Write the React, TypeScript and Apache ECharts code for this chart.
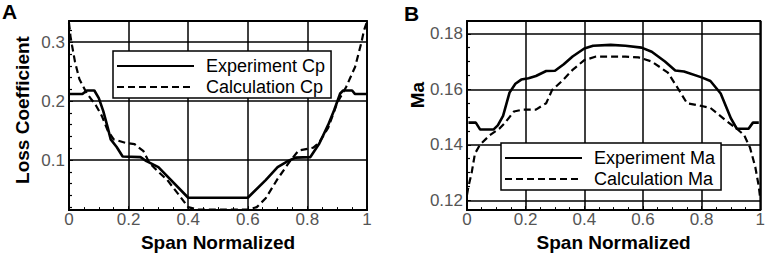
import React, { useEffect, useRef } from "react";
import * as echarts from "echarts";

// ---------- Data ----------
const expCpX = [0, 0.045, 0.06, 0.085, 0.1, 0.115, 0.13, 0.14, 0.16, 0.18, 0.24, 0.26, 0.3, 0.4, 0.6, 0.66, 0.7, 0.73, 0.76, 0.81, 0.84, 0.87, 0.89, 0.91, 0.92, 0.95, 0.96, 1];
const expCpY = [0.212, 0.212, 0.218, 0.218, 0.205, 0.183, 0.155, 0.135, 0.122, 0.106, 0.105, 0.098, 0.088, 0.036, 0.036, 0.066, 0.088, 0.097, 0.104, 0.105, 0.128, 0.16, 0.185, 0.213, 0.218, 0.218, 0.212, 0.212];

const calcCpX = [0, 0.005, 0.01, 0.02, 0.035, 0.06, 0.09, 0.11, 0.13, 0.15, 0.19, 0.22, 0.25, 0.27, 0.3, 0.33, 0.37, 0.4, 0.43, 0.5, 0.6, 0.63, 0.66, 0.7, 0.74, 0.77, 0.8, 0.82, 0.84, 0.87, 0.9, 0.93, 0.96, 0.98, 0.99, 1];
const calcCpY = [0.333, 0.31, 0.295, 0.267, 0.237, 0.213, 0.193, 0.175, 0.15, 0.135, 0.129, 0.127, 0.115, 0.095, 0.08, 0.066, 0.04, 0.02, 0.016, 0.016, 0.016, 0.02, 0.035, 0.068, 0.097, 0.116, 0.119, 0.121, 0.13, 0.155, 0.197, 0.224, 0.258, 0.297, 0.32, 0.335];

const expMaX = [0.005, 0.03, 0.045, 0.09, 0.105, 0.123, 0.145, 0.165, 0.185, 0.21, 0.235, 0.27, 0.3, 0.33, 0.36, 0.4, 0.43, 0.49, 0.54, 0.595, 0.63, 0.675, 0.71, 0.74, 0.8, 0.83, 0.865, 0.9, 0.92, 0.96, 0.975, 0.995];
const expMaY = [0.148, 0.148, 0.1455, 0.1455, 0.147, 0.1504, 0.1588, 0.162, 0.1635, 0.164, 0.1648, 0.1666, 0.1667, 0.169, 0.1718, 0.1747, 0.1757, 0.176, 0.1757, 0.175, 0.1735, 0.17, 0.1668, 0.1664, 0.1643, 0.163, 0.1585, 0.1495, 0.1458, 0.1458, 0.148, 0.148];

const calcMaX = [0, 0.005, 0.016, 0.027, 0.044, 0.078, 0.11, 0.13, 0.145, 0.16, 0.19, 0.235, 0.27, 0.29, 0.325, 0.36, 0.4, 0.44, 0.54, 0.585, 0.63, 0.685, 0.72, 0.75, 0.8, 0.83, 0.88, 0.92, 0.945, 0.965, 0.983, 0.995, 1];
const calcMaY = [0.122, 0.125, 0.13, 0.1368, 0.14, 0.1435, 0.1458, 0.148, 0.15, 0.152, 0.1527, 0.1527, 0.155, 0.1597, 0.1631, 0.167, 0.1705, 0.1718, 0.1718, 0.1715, 0.17, 0.166, 0.1602, 0.155, 0.154, 0.1533, 0.149, 0.1458, 0.1435, 0.139, 0.132, 0.125, 0.1205];

const yTicksA = [0.1, 0.2, 0.3];
const yMinorA = [0.02, 0.04, 0.06, 0.08, 0.12, 0.14, 0.16, 0.18, 0.22, 0.24, 0.26, 0.28, 0.32];
const yTicksB = [0.12, 0.14, 0.16, 0.18];
const yMinorB = [0.125, 0.13, 0.135, 0.145, 0.15, 0.155, 0.165, 0.17, 0.175];

const seriesNamesA = ["Experiment Cp", "Calculation Cp"];
const seriesNamesB = ["Experiment Ma", "Calculation Ma"];

const zip = (xs: number[], ys: number[]) => xs.map((x, i) => [x, ys[i]]);

const FONT = "'Liberation Sans', Arial, sans-serif";
const LABEL_COLOR = "#555";

function xAxis(gridIndex: number) {
  return {
    type: "value",
    gridIndex,
    min: 0,
    max: 1,
    interval: 0.2,
    axisLine: { show: true, lineStyle: { color: "#000", width: 2 } },
    axisTick: { show: true, inside: true, length: 4, lineStyle: { color: "#000", width: 1 } },
    minorTick: { show: true, splitNumber: 4, length: 3, lineStyle: { color: "#000", width: 1 } },
    splitLine: { show: true, lineStyle: { color: "#000", width: 1.5 } },
    axisLabel: { color: LABEL_COLOR, fontSize: 17, fontFamily: FONT, margin: 1 },
    name: "Span Normalized",
    nameLocation: "middle",
    nameGap: 17,
    nameTextStyle: { fontWeight: "bold", fontSize: 19, color: "#000", fontFamily: FONT },
  };
}

function yMain(gridIndex: number, min: number, max: number, ticks: number[]) {
  return {
    type: "value",
    gridIndex,
    min,
    max,
    axisLine: { show: true, lineStyle: { color: "#000", width: 1.5 } },
    axisTick: { show: true, inside: true, length: 4, customValues: ticks, lineStyle: { color: "#000" } },
    axisLabel: { customValues: ticks, color: LABEL_COLOR, fontSize: 17, fontFamily: FONT, margin: 4 },
    splitLine: { show: true, lineStyle: { color: "#000", width: 1.5 } },
  };
}

function yMinor(gridIndex: number, min: number, max: number, ticks: number[]) {
  return {
    type: "value",
    gridIndex,
    position: "left",
    min,
    max,
    axisLine: { show: false },
    axisLabel: { show: false },
    splitLine: { show: false },
    axisTick: { show: true, inside: true, length: 3, customValues: ticks, lineStyle: { color: "#000", width: 1.2 } },
  };
}

function legend(names: string[], left: number, top: number) {
  return {
    data: names,
    orient: "vertical",
    left,
    top,
    itemWidth: 77,
    itemHeight: 14,
    itemGap: 3,
    padding: [6, 6, 2, 3],
    borderColor: "#000",
    borderWidth: 1.5,
    backgroundColor: "#fff",
    selectedMode: false,
    itemStyle: { opacity: 0 },
    textStyle: { fontSize: 18, color: "#000", fontFamily: FONT, padding: [0, 0, 0, 7] },
  };
}

function line(name: string, data: number[][], xi: number, yi: number, dashed: boolean) {
  return {
    type: "line",
    name,
    data,
    xAxisIndex: xi,
    yAxisIndex: yi,
    symbol: "none",
    showSymbol: false,
    color: "#000",
    lineStyle: dashed ? { color: "#000", width: 2.2, type: [7, 4] } : { color: "#000", width: 2.6, type: "solid" },
  };
}

export default function App() {
  const ref = useRef<HTMLDivElement>(null);
  useEffect(() => {
    const chart = echarts.init(ref.current!, null, { renderer: "svg" });
    const minA = 0.015, maxA = 0.336;
    const minB = 0.1165, maxB = 0.1846;
    chart.setOption({
      animation: false,
      backgroundColor: "#fff",
      grid: [
        { left: 69, top: 21, width: 298, height: 197, show: true, borderColor: "#000", borderWidth: 1.8 },
        { left: 467, top: 21, width: 296, height: 197, show: true, borderColor: "#000", borderWidth: 1.8 },
      ],
      xAxis: [xAxis(0), xAxis(1)],
      yAxis: [
        yMain(0, minA, maxA, yTicksA),
        yMinor(0, minA, maxA, yMinorA),
        yMain(1, minB, maxB, yTicksB),
        yMinor(1, minB, maxB, yMinorB),
      ],
      legend: [legend(seriesNamesA, 113, 51), legend(seriesNamesB, 501, 143)],
      series: [
        line(seriesNamesA[0], zip(expCpX, expCpY), 0, 0, false),
        line(seriesNamesA[1], zip(calcCpX, calcCpY), 0, 0, true),
        line(seriesNamesB[0], zip(expMaX, expMaY), 1, 2, false),
        line(seriesNamesB[1], zip(calcMaX, calcMaY), 1, 2, true),
      ],
      graphic: [
        { type: "text", left: 2, top: 1, style: { text: "A", font: `bold 21px ${FONT}`, fill: "#000" } },
        { type: "text", left: 404, top: 3, style: { text: "B", font: `bold 21px ${FONT}`, fill: "#000" } },
        {
          type: "text", x: 22, y: 110, rotation: Math.PI / 2,
          style: { text: "Loss Coefficient", font: `bold 19px ${FONT}`, fill: "#000", align: "center", verticalAlign: "middle", textAlign: "center", textVerticalAlign: "middle" },
        },
        {
          type: "text", x: 417, y: 95, rotation: Math.PI / 2,
          style: { text: "Ma", font: `bold 19px ${FONT}`, fill: "#000", align: "center", verticalAlign: "middle", textAlign: "center", textVerticalAlign: "middle" },
        },
      ],
    });
    return () => chart.dispose();
  }, []);
  return <div ref={ref} style={{ position: "absolute", left: 0, top: 0, width: 768, height: 257 }} />;
}
